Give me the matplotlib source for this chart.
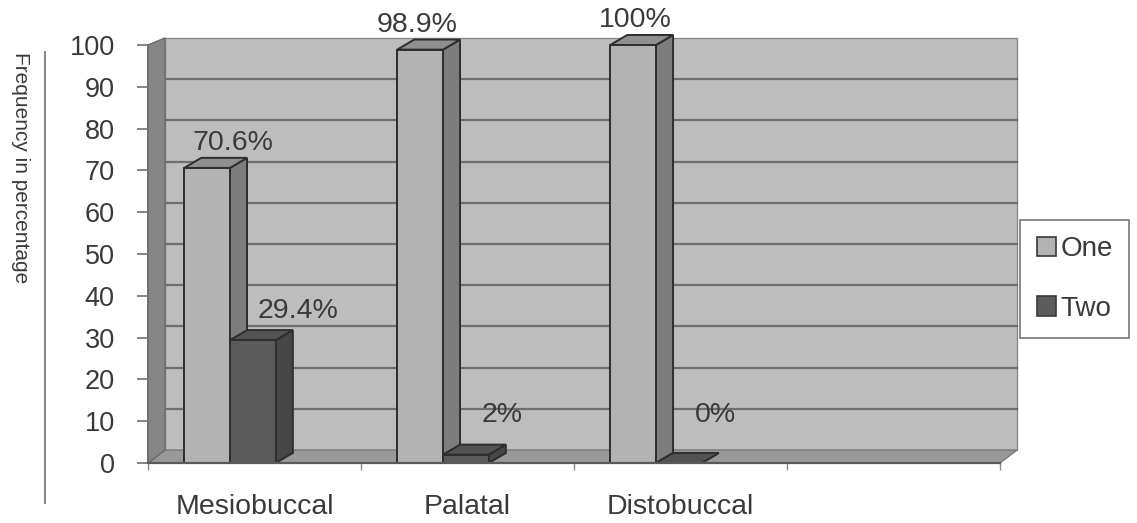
import matplotlib.pyplot as plt
from matplotlib.patches import Polygon, Rectangle
from matplotlib.lines import Line2D

plt.rcParams['font.family'] = ['Liberation Sans', 'DejaVu Sans']

# data
categories = ['Mesiobuccal', 'Palatal', 'Distobuccal']
series_names = ['One', 'Two']
one_vals = [70.6, 98.9, 100]
two_vals = [29.4, 2, 0]
y_ticks = [0, 10, 20, 30, 40, 50, 60, 70, 80, 90, 100]
n_slots = 4  # chart has an empty 4th category slot

# styling
txt = '#3a3a3a'
face = {'One': ('#b3b3b3', '#7d7d7d', '#8f8f8f'),
		'Two': ('#5b5b5b', '#474747', '#525252')}
dx, dy = 0.08, 2.4		# depth offset of bars
bw = 0.215				# bar width
one_start = 0.17
lbl_dx = {'One': [0.12, -0.015, 0.01], 'Two': [0.21, 0.17, 0.17]}

def back(v):
	# y position of value v on the back wall
	return 3.1 + v * 0.986

fig = plt.figure(figsize=(11.37, 5.23), dpi=100)
ax = fig.add_axes([148/1137, 60/523, 852/1137, 418/523])
ax.set_xlim(0, n_slots)
ax.set_ylim(0, 100)
ax.patch.set_visible(False)

# back wall
ax.add_patch(Polygon([(dx, back(0)), (n_slots + dx, back(0)), (n_slots + dx, back(100)), (dx, back(100))],
	closed=True, facecolor='#bdbdbd', edgecolor='#8a8a8a', lw=1, clip_on=False, zorder=0))
for v in y_ticks[1:-1]:
	ax.plot([dx, n_slots + dx], [back(v), back(v)], color='#6e6e6e', lw=1.6, clip_on=False, zorder=1)

# floor
ax.add_patch(Polygon([(0, 0), (n_slots, 0), (n_slots + dx, back(0)), (dx, back(0))],
	closed=True, facecolor='#999999', edgecolor='#7a7a7a', lw=1, clip_on=False, zorder=1))
# left wall
ax.add_patch(Polygon([(0, 0), (dx, back(0)), (dx, back(100)), (0, 100)],
	closed=True, facecolor='#858585', edgecolor='#6a6a6a', lw=1, clip_on=False, zorder=1))

def bar3d(x0, h, name):
	fc, sc, tc = face[name]
	x1 = x0 + bw
	ax.add_patch(Polygon([(x1, 0), (x1 + dx, dy), (x1 + dx, h + dy), (x1, h)],
		closed=True, facecolor=sc, edgecolor='#2e2e2e', lw=1.4, clip_on=False, zorder=3))
	ax.add_patch(Polygon([(x0, h), (x1, h), (x1 + dx, h + dy), (x0 + dx, h + dy)],
		closed=True, facecolor=tc, edgecolor='#2e2e2e', lw=1.4, clip_on=False, zorder=3))
	ax.add_patch(Rectangle((x0, 0), bw, h, facecolor=fc, edgecolor='#2e2e2e', lw=1.4,
		clip_on=False, zorder=3))

for i in range(len(categories)):
	x_one = i + one_start
	x_two = x_one + bw
	bar3d(x_one, one_vals[i], 'One')
	bar3d(x_two, two_vals[i], 'Two')
	ax.text(x_one + bw / 2 + lbl_dx['One'][i], one_vals[i] + 6, f'{one_vals[i]:g}%',
		ha='center', va='center', fontsize=20.5, color=txt, zorder=5)
	ax.text(x_two + bw / 2 + lbl_dx['Two'][i], max(two_vals[i] + 7, 11.5), f'{two_vals[i]:g}%',
		ha='center', va='center', fontsize=20.5, color=txt, zorder=5)

# axes
for s in ['top', 'right']:
	ax.spines[s].set_visible(False)
ax.spines['left'].set_color('#707070')
ax.spines['bottom'].set_color('#5a5a5a')
ax.spines['left'].set_linewidth(1.4)
ax.spines['bottom'].set_linewidth(1.6)
ax.spines['left'].set_zorder(4)
ax.spines['bottom'].set_zorder(4)
ax.set_yticks(y_ticks)
ax.tick_params(axis='y', length=8, width=1.2, color='#707070', pad=16, labelsize=19.5, labelcolor=txt)
ax.set_xticks(range(n_slots + 1))
ax.set_xticklabels([])
ax.tick_params(axis='x', which='major', length=5, width=1, color='#8a8a8a')
ax.set_xticks([i + 0.5 for i in range(len(categories))], minor=True)
ax.set_xticklabels(categories, minor=True)
ax.tick_params(axis='x', which='minor', length=0, pad=22, labelsize=20.5, labelcolor=txt)

fig.text(20/1137, 1 - 168/523, 'Frequency in percentage', rotation=270, ha='center', va='center',
	fontsize=15, color=txt)
fig.add_artist(Line2D([45/1137, 45/1137], [1 - 52/523, 1 - 503/523], color='#8a8a8a', lw=1.5))

handles = [Rectangle((0, 0), 1, 1, facecolor=face[n][0], edgecolor='#3a3a3a', lw=1.2) for n in series_names]
leg = fig.legend(handles, series_names, loc='center left', bbox_to_anchor=(1020/1137, 1 - 279/523),
	bbox_transform=fig.transFigure, fontsize=20, frameon=True, fancybox=False, edgecolor='#555555',
	handlelength=0.7, handleheight=0.7, handletextpad=0.15, labelspacing=1.2, borderpad=0.6,
	borderaxespad=0)
leg.get_frame().set_linewidth(1.2)
for t in leg.get_texts():
	t.set_color(txt)

plt.savefig('out.png', dpi=100)
